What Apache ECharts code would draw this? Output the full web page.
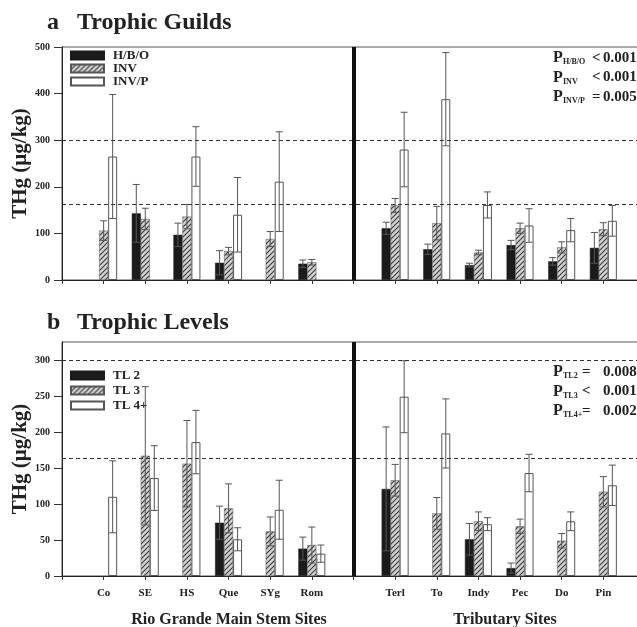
<!DOCTYPE html>
<html>
<head>
<meta charset="utf-8">
<script src="https://cdn.jsdelivr.net/npm/echarts@6/dist/echarts.min.js"></script>
<style>
  html, body { margin: 0; padding: 0; background: #fff; }
  #chart { width: 637px; height: 627px; }
</style>
</head>
<body>
<div id="chart"></div>
<script>
// sites (blank slots: left edge, separator, right edge)
const sites = ['', 'Co', 'SE', 'HS', 'Que', 'SYg', 'Rom', ' ', 'Terl', 'To', 'Indy', 'Pec', 'Do', 'Pin', '  '];

// a  Trophic Guilds
const hbo     = [null, null, 143, 97, 37, null, 35, null, 111, 66, 32, 75, 40, 69, null];
const hboErr  = [null, null, 62, 25, 26, null, 8, null, 13, 11, 4, 10, 8, 33, null];
const inv     = [null, 106, 131, 136, 62, 88, 38, null, 160, 122, 59, 111, 70, 109, null];
const invErr  = [null, 21, 23, 26, 8, 16, 6, null, 15, 36, 5, 11, 12, 14, null];
const invp    = [null, 265, null, 265, 140, 211, null, null, 280, 388, 161, 117, 107, 127, null];
const invpErr = [null, 133, null, 64, 80, 107, null, null, 80, 100, 28, 36, 25, 33, null];

// b  Trophic Levels
const tl2    = [null, null, null, null, 74, null, 38, null, 121, null, 51, 11, null, null, null];
const tl2Err = [null, null, null, null, 23, null, 16, null, 86, null, 22, 7, null, null, null];
const tl3    = [null, null, 167, 156, 94, 62, 43, null, 133, 87, 76, 69, 49, 117, null];
const tl3Err = [null, null, 96, 60, 34, 20, 25, null, 22, 22, 13, 10, 10, 21, null];
const tl4    = [null, 110, 136, 186, 51, 92, 31, null, 249, 198, 72, 143, 76, 126, null];
const tl4Err = [null, 50, 45, 44, 16, 41, 12, null, 50, 48, 9, 26, 13, 28, null];

const refLines = [300, 163];
const sepIndex = 7;

const serif = 'Liberation Serif';
const barW = 9;

// hatch pattern for the middle group
function hatch() {
  const c = document.createElement('canvas');
  c.width = 5; c.height = 5;
  const g = c.getContext('2d');
  g.fillStyle = '#d2d2d2';
  g.fillRect(0, 0, 5, 5);
  g.strokeStyle = '#3a3a3a';
  g.lineWidth = 1.1;
  g.beginPath();
  g.moveTo(0, 5); g.lineTo(5, 0);
  g.moveTo(-1, 1); g.lineTo(1, -1);
  g.moveTo(4, 6); g.lineTo(6, 4);
  g.stroke();
  return { image: c, repeat: 'repeat' };
}
const hatchFill = hatch();

const styles = [
  { color: '#1b1b1b', borderColor: '#1b1b1b', borderWidth: 0.5 },
  { color: hatchFill, borderColor: '#555', borderWidth: 0.5 },
  { color: '#fff', borderColor: '#555', borderWidth: 1 }
];

function barSeries(name, vals, k, idx, extra) {
  return Object.assign({
    name: name,
    type: 'bar',
    xAxisIndex: idx,
    yAxisIndex: idx,
    barWidth: barW,
    barGap: '0%',
    itemStyle: styles[k],
    data: vals,
    z: 2
  }, extra || {});
}

function errSeries(vals, errs, offset, idx) {
  const rows = [];
  vals.forEach((v, i) => {
    if (v != null && errs[i] != null) rows.push([i, v, errs[i]]);
  });
  return {
    type: 'custom',
    xAxisIndex: idx,
    yAxisIndex: idx,
    silent: true,
    z: 4,
    data: rows,
    renderItem(params, api) {
      const i = api.value(0), m = api.value(1), e = api.value(2);
      const top = api.coord([i, m + e]);
      const bot = api.coord([i, Math.max(0, m - e)]);
      const x = top[0] + offset;
      const ls = { stroke: '#555', lineWidth: 1 };
      return {
        type: 'group',
        children: [
          { type: 'line', shape: { x1: x, y1: top[1], x2: x, y2: bot[1] }, style: ls },
          { type: 'line', shape: { x1: x - 3.5, y1: top[1], x2: x + 3.5, y2: top[1] }, style: ls },
          { type: 'line', shape: { x1: x - 3.5, y1: bot[1], x2: x + 3.5, y2: bot[1] }, style: ls }
        ]
      };
    }
  };
}

function marks() {
  return {
    markLine: {
      silent: true,
      symbol: 'none',
      label: { show: false },
      data: [
        { yAxis: refLines[0], lineStyle: { type: [4, 3], color: '#333', width: 1 } },
        { yAxis: refLines[1], lineStyle: { type: [4, 3], color: '#333', width: 1 } },
        { xAxis: sepIndex, lineStyle: { type: 'solid', color: '#111', width: 4 } }
      ]
    }
  };
}

function xAxisCfg(idx, showLabels) {
  return {
    type: 'category',
    gridIndex: idx,
    data: sites,
    boundaryGap: false,
    axisLine: { lineStyle: { color: '#222', width: 1 } },
    axisTick: { show: true, interval: 0, length: 4, lineStyle: { color: '#333' } },
    axisLabel: {
      show: showLabels, interval: 0, margin: 12,
      fontFamily: serif, fontWeight: 'bold', fontSize: 11, color: '#222'
    },
    splitLine: { show: false }
  };
}

function yAxisCfg(idx, max, showMax) {
  return {
    type: 'value',
    gridIndex: idx,
    min: 0,
    max: max,
    interval: idx === 0 ? 100 : 50,
    name: 'THg (µg/kg)',
    nameLocation: 'middle',
    nameRotate: 90,
    nameGap: 31,
    nameMoveOverlap: false,
    nameTextStyle: { fontFamily: serif, fontWeight: 'bold', fontSize: 21, color: '#222' },
    axisLine: { show: true, lineStyle: { color: '#222' } },
    axisTick: { show: true, length: 8, lineStyle: { color: '#333' } },
    axisLabel: {
      showMaxLabel: showMax, margin: 12,
      fontFamily: serif, fontWeight: 'bold', fontSize: 10, color: '#222'
    },
    splitLine: { show: false }
  };
}

function txt(x, y, s, size, extra) {
  return {
    type: 'text', x: x, y: y, silent: true,
    style: Object.assign({
      text: s, fontFamily: serif, fontWeight: 'bold', fontSize: size,
      fill: '#222', verticalAlign: 'middle'
    }, extra || {})
  };
}

// P-value block: [sub, op, value]
function pBlock(x, y0, rows, opX, valX) {
  const out = [];
  rows.forEach((r, j) => {
    const y = y0 + j * 19.5;
    out.push(txt(x, y, 'P', 16));
    out.push(txt(x + 10, y + 4, r[0], 8));
    out.push(txt(opX, y, r[1], 15));
    out.push(txt(valX, y, r[2], 15));
  });
  return out;
}

const chart = echarts.init(document.getElementById('chart'));

const legendText = { fontFamily: serif, fontWeight: 'bold', fontSize: 13, color: '#222', padding: [0, 0, 0, 4] };

const option = {
  animation: false,
  backgroundColor: '#fff',
  grid: [
    { left: 62, width: 583, top: 47, height: 233, outerBoundsMode: 'none', containLabel: false,
      show: true, borderColor: '#555', borderWidth: 1 },
    { left: 62, width: 583, top: 342, height: 234, outerBoundsMode: 'none', containLabel: false,
      show: true, borderColor: '#555', borderWidth: 1 }
  ],
  legend: [
    {
      data: ['H/B/O', 'INV', 'INV/P'],
      icon: 'rect',
      orient: 'vertical', left: 65, top: 44,
      itemWidth: 33, itemHeight: 8, itemGap: 0,
      textStyle: legendText
    },
    {
      data: ['TL 2', 'TL 3', 'TL 4+'],
      icon: 'rect',
      orient: 'vertical', left: 65, top: 364,
      itemWidth: 33, itemHeight: 8, itemGap: 2,
      textStyle: legendText
    }
  ],
  xAxis: [xAxisCfg(0, false), xAxisCfg(1, true)],
  yAxis: [yAxisCfg(0, 500, true), yAxisCfg(1, 325, false)],
  series: [
    barSeries('H/B/O', hbo, 0, 0),
    barSeries('INV', inv, 1, 0, marks()),
    barSeries('INV/P', invp, 2, 0),
    errSeries(hbo, hboErr, -barW, 0),
    errSeries(inv, invErr, 0, 0),
    errSeries(invp, invpErr, barW, 0),
    barSeries('TL 2', tl2, 0, 1),
    barSeries('TL 3', tl3, 1, 1, marks()),
    barSeries('TL 4+', tl4, 2, 1),
    errSeries(tl2, tl2Err, -barW, 1),
    errSeries(tl3, tl3Err, 0, 1),
    errSeries(tl4, tl4Err, barW, 1)
  ],
  graphic: [
    txt(47, 23, 'a', 24),
    txt(77, 23, 'Trophic Guilds', 24),
    txt(47, 323, 'b', 24),
    txt(77, 323, 'Trophic Levels', 24),
    txt(229, 620, 'Rio Grande Main Stem Sites', 16, { align: 'center' }),
    txt(505, 620, 'Tributary Sites', 16, { align: 'center' })
  ].concat(
    pBlock(553, 58, [['H/B/O', '<', '0.001'], ['INV', '<', '0.001'], ['INV/P', '=', '0.005']], 592, 603),
    pBlock(553, 372, [['TL2', '=', '0.008'], ['TL3', '<', '0.001'], ['TL4+', '=', '0.002']], 582, 603)
  )
};

chart.setOption(option);
</script>
</body>
</html>
